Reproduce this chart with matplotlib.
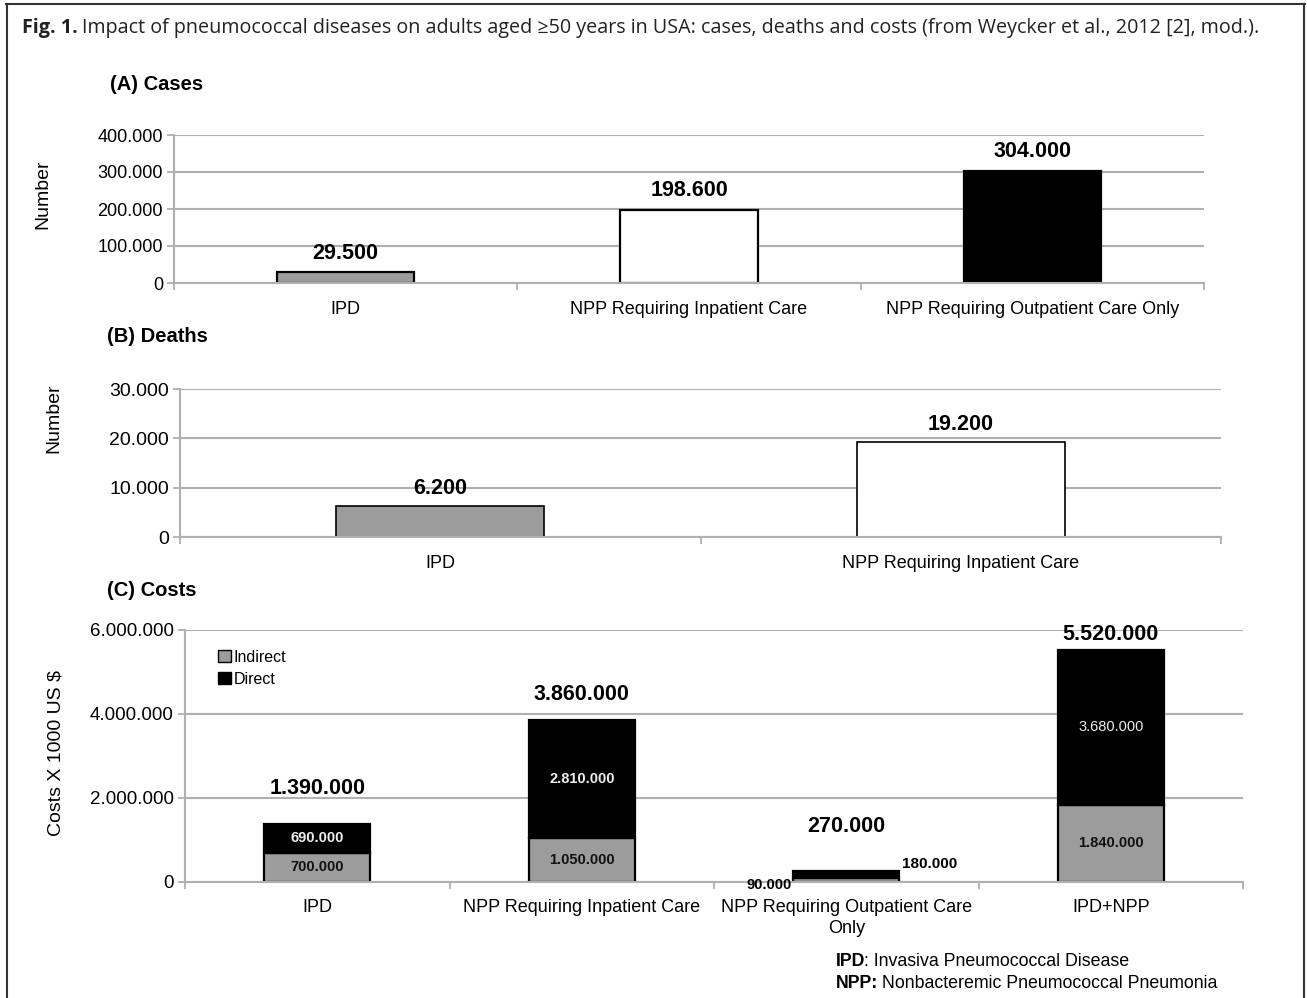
import numpy as np
import matplotlib.pyplot as plt
from matplotlib.lines import Line2D
from matplotlib.patches import Patch
import matplotlib.ticker as ticker

# Data
cases_cats = ['IPD', 'NPP Requiring Inpatient Care', 'NPP Requiring Outpatient Care Only']
cases_vals = [29500, 198600, 304000]
deaths_cats = ['IPD', 'NPP Requiring Inpatient Care']
deaths_vals = [6200, 19200]
cost_cats = ['IPD', 'NPP Requiring Inpatient Care', 'NPP Requiring Outpatient Care\nOnly', 'IPD+NPP']
cost_indirect = [700000, 1050000, 90000, 1840000]
cost_direct = [690000, 2810000, 180000, 3680000]
cost_total = [1390000, 3860000, 270000, 5520000]

GRAY = '#9c9c9c'
GRID = '#b0b0b0'
FONT = ['Liberation Sans', 'DejaVu Sans']
plt.rcParams['font.family'] = FONT


def fmt(v):
    # european thousands separator
    return '{:,}'.format(int(v)).replace(',', '.')


W, H = 1307, 998
fig = plt.figure(figsize=(W / 100, H / 100), dpi=100)


def px_axes(x0, x1, y_top, y_bot):
    return fig.add_axes([x0 / W, 1 - y_bot / H, (x1 - x0) / W, (y_bot - y_top) / H])


def style_axes(ax, n, ymax, step, fs):
    ax.set_xlim(-0.5, n - 0.5)
    ax.set_ylim(0, ymax)
    ax.yaxis.set_major_locator(ticker.MultipleLocator(step))
    ax.yaxis.set_major_formatter(ticker.FuncFormatter(lambda v, p: fmt(v)))
    ax.grid(axis='y', color=GRID, linewidth=1.5)
    ax.set_axisbelow(True)
    for s in ['top', 'right']:
        ax.spines[s].set_visible(False)
    for s in ['left', 'bottom']:
        ax.spines[s].set_color(GRID)
        ax.spines[s].set_linewidth(1.5)
    ax.tick_params(axis='y', length=5, color=GRID, width=1.3, labelsize=fs, pad=3)
    ax.set_xticks(np.arange(n))
    ax.tick_params(axis='x', length=0, labelsize=13, pad=13)
    ax.set_xticks(np.arange(n + 1) - 0.5, minor=True)
    ax.tick_params(axis='x', which='minor', length=5, color=GRID, width=1.3)


# (A) Cases
axA = px_axes(174, 1204, 135, 283)
xa = np.arange(len(cases_cats))
axA.bar(xa, cases_vals, width=0.4, color=[GRAY, 'white', 'black'], edgecolor='black', linewidth=1.6)
style_axes(axA, len(cases_cats), 400000, 100000, 13)
axA.set_xticklabels(cases_cats)
for x, v in zip(xa, cases_vals):
    axA.annotate(fmt(v), (x, v), xytext=(0, 6), textcoords='offset points',
                 ha='center', va='bottom', fontsize=15.5, fontweight='bold')
axA.set_ylabel('Number', fontsize=14, labelpad=33, y=0.6)
fig.text(110 / W, 1 - 85 / H, '(A) Cases', fontsize=14.5, fontweight='bold', va='center')

# (B) Deaths
axB = px_axes(180, 1221, 389, 537)
xb = np.arange(len(deaths_cats))
axB.bar(xb, deaths_vals, width=0.4, color=[GRAY, 'white'], edgecolor='black', linewidth=1.2)
style_axes(axB, len(deaths_cats), 30000, 10000, 14)
axB.set_xticklabels(deaths_cats)
for x, v in zip(xb, deaths_vals):
    axB.annotate(fmt(v), (x, v), xytext=(0, 5), textcoords='offset points',
                 ha='center', va='bottom', fontsize=15.5, fontweight='bold')
axB.set_ylabel('Number', fontsize=14, labelpad=34, y=0.8)
fig.text(107 / W, 1 - 337 / H, '(B) Deaths', fontsize=14.5, fontweight='bold', va='center')

# (C) Costs
axC = px_axes(185, 1243, 630, 882)
xc = np.arange(len(cost_cats))
axC.bar(xc, cost_indirect, width=0.4, color=GRAY, edgecolor='black', linewidth=1.6, label='Indirect')
axC.bar(xc, cost_direct, width=0.4, bottom=cost_indirect, color='black', edgecolor='black',
        linewidth=1.6, label='Direct')
style_axes(axC, len(cost_cats), 6000000, 2000000, 13.5)
axC.set_xticklabels(cost_cats, linespacing=1.35)
axC.tick_params(axis='x', pad=12)
axC.set_ylabel('Costs X 1000 US $', fontsize=14, labelpad=18, y=0.51)
fig.text(107 / W, 1 - 590 / H, '(C) Costs', fontsize=14.5, fontweight='bold', va='center')

total_offsets = [18, 11, 24, 4]
for x, v, off in zip(xc, cost_total, total_offsets):
    axC.annotate(fmt(v), (x, v), xytext=(0, off), textcoords='offset points',
                 ha='center', va='bottom', fontsize=15.5, fontweight='bold')

# segment labels
for i in [0, 1, 3]:
    axC.text(xc[i], cost_indirect[i] / 2, fmt(cost_indirect[i]), ha='center', va='center',
             fontsize=10.5, fontweight='bold', color='#111111')
    axC.text(xc[i], cost_indirect[i] + cost_direct[i] / 2, fmt(cost_direct[i]), ha='center',
             va='center', fontsize=10.5, fontweight='bold' if i < 3 else 'normal', color='#eeeeee')
axC.annotate(fmt(cost_indirect[2]), (xc[2] - 0.2, 0), xytext=(-1, -2), textcoords='offset points',
             ha='right', va='center', fontsize=10.5, fontweight='bold')
axC.annotate(fmt(cost_direct[2]), (xc[2] + 0.2, cost_total[2]), xytext=(2, 5), textcoords='offset points',
             ha='left', va='center', fontsize=11, fontweight='bold')

handles = [Patch(facecolor=GRAY, edgecolor='black', linewidth=1), Patch(facecolor='black', edgecolor='black')]
axC.legend(handles, ['Indirect', 'Direct'], loc='upper left', bbox_to_anchor=(0.025, 0.947), frameon=False,
           fontsize=11.5, handlelength=0.8, handleheight=0.8, handletextpad=0.2, labelspacing=0.45,
           borderaxespad=0)

# caption and frame
renderer = fig.canvas.get_renderer()
cap_font = ['Open Sans', 'DejaVu Sans']
t1 = fig.text(22 / W, 1 - 28 / H, 'Fig. 1.', fontsize=14.2, fontweight='bold', va='center',
              family=cap_font, color='#222222')
bb = t1.get_window_extent(renderer)
fig.text((bb.x1 + 4) / W, 1 - 28 / H,
         'Impact of pneumococcal diseases on adults aged \u226550 years in USA: cases, deaths and costs '
         '(from Weycker et al., 2012 [2], mod.).',
         fontsize=14.2, va='center', family=cap_font, color='#222222')

for y, bold, rest in [(961, 'IPD', ': Invasiva Pneumococcal Disease'),
                      (983, 'NPP:', ' Nonbacteremic Pneumococcal Pneumonia')]:
    tb = fig.text(836 / W, 1 - y / H, bold, fontsize=12.8, fontweight='bold', va='center')
    bb = tb.get_window_extent(renderer)
    fig.text((bb.x1 - 1) / W, 1 - y / H, rest, fontsize=12.8, va='center')

fig.add_artist(Line2D([6 / W, 1305 / W], [1 - 4 / H, 1 - 4 / H], color='#333333', linewidth=1.5))
fig.add_artist(Line2D([7 / W, 7 / W], [0, 1 - 4 / H], color='#333333', linewidth=1.5))
fig.add_artist(Line2D([1304 / W, 1304 / W], [0, 1 - 4 / H], color='#333333', linewidth=1.5))

plt.savefig('out.png', dpi=100)
